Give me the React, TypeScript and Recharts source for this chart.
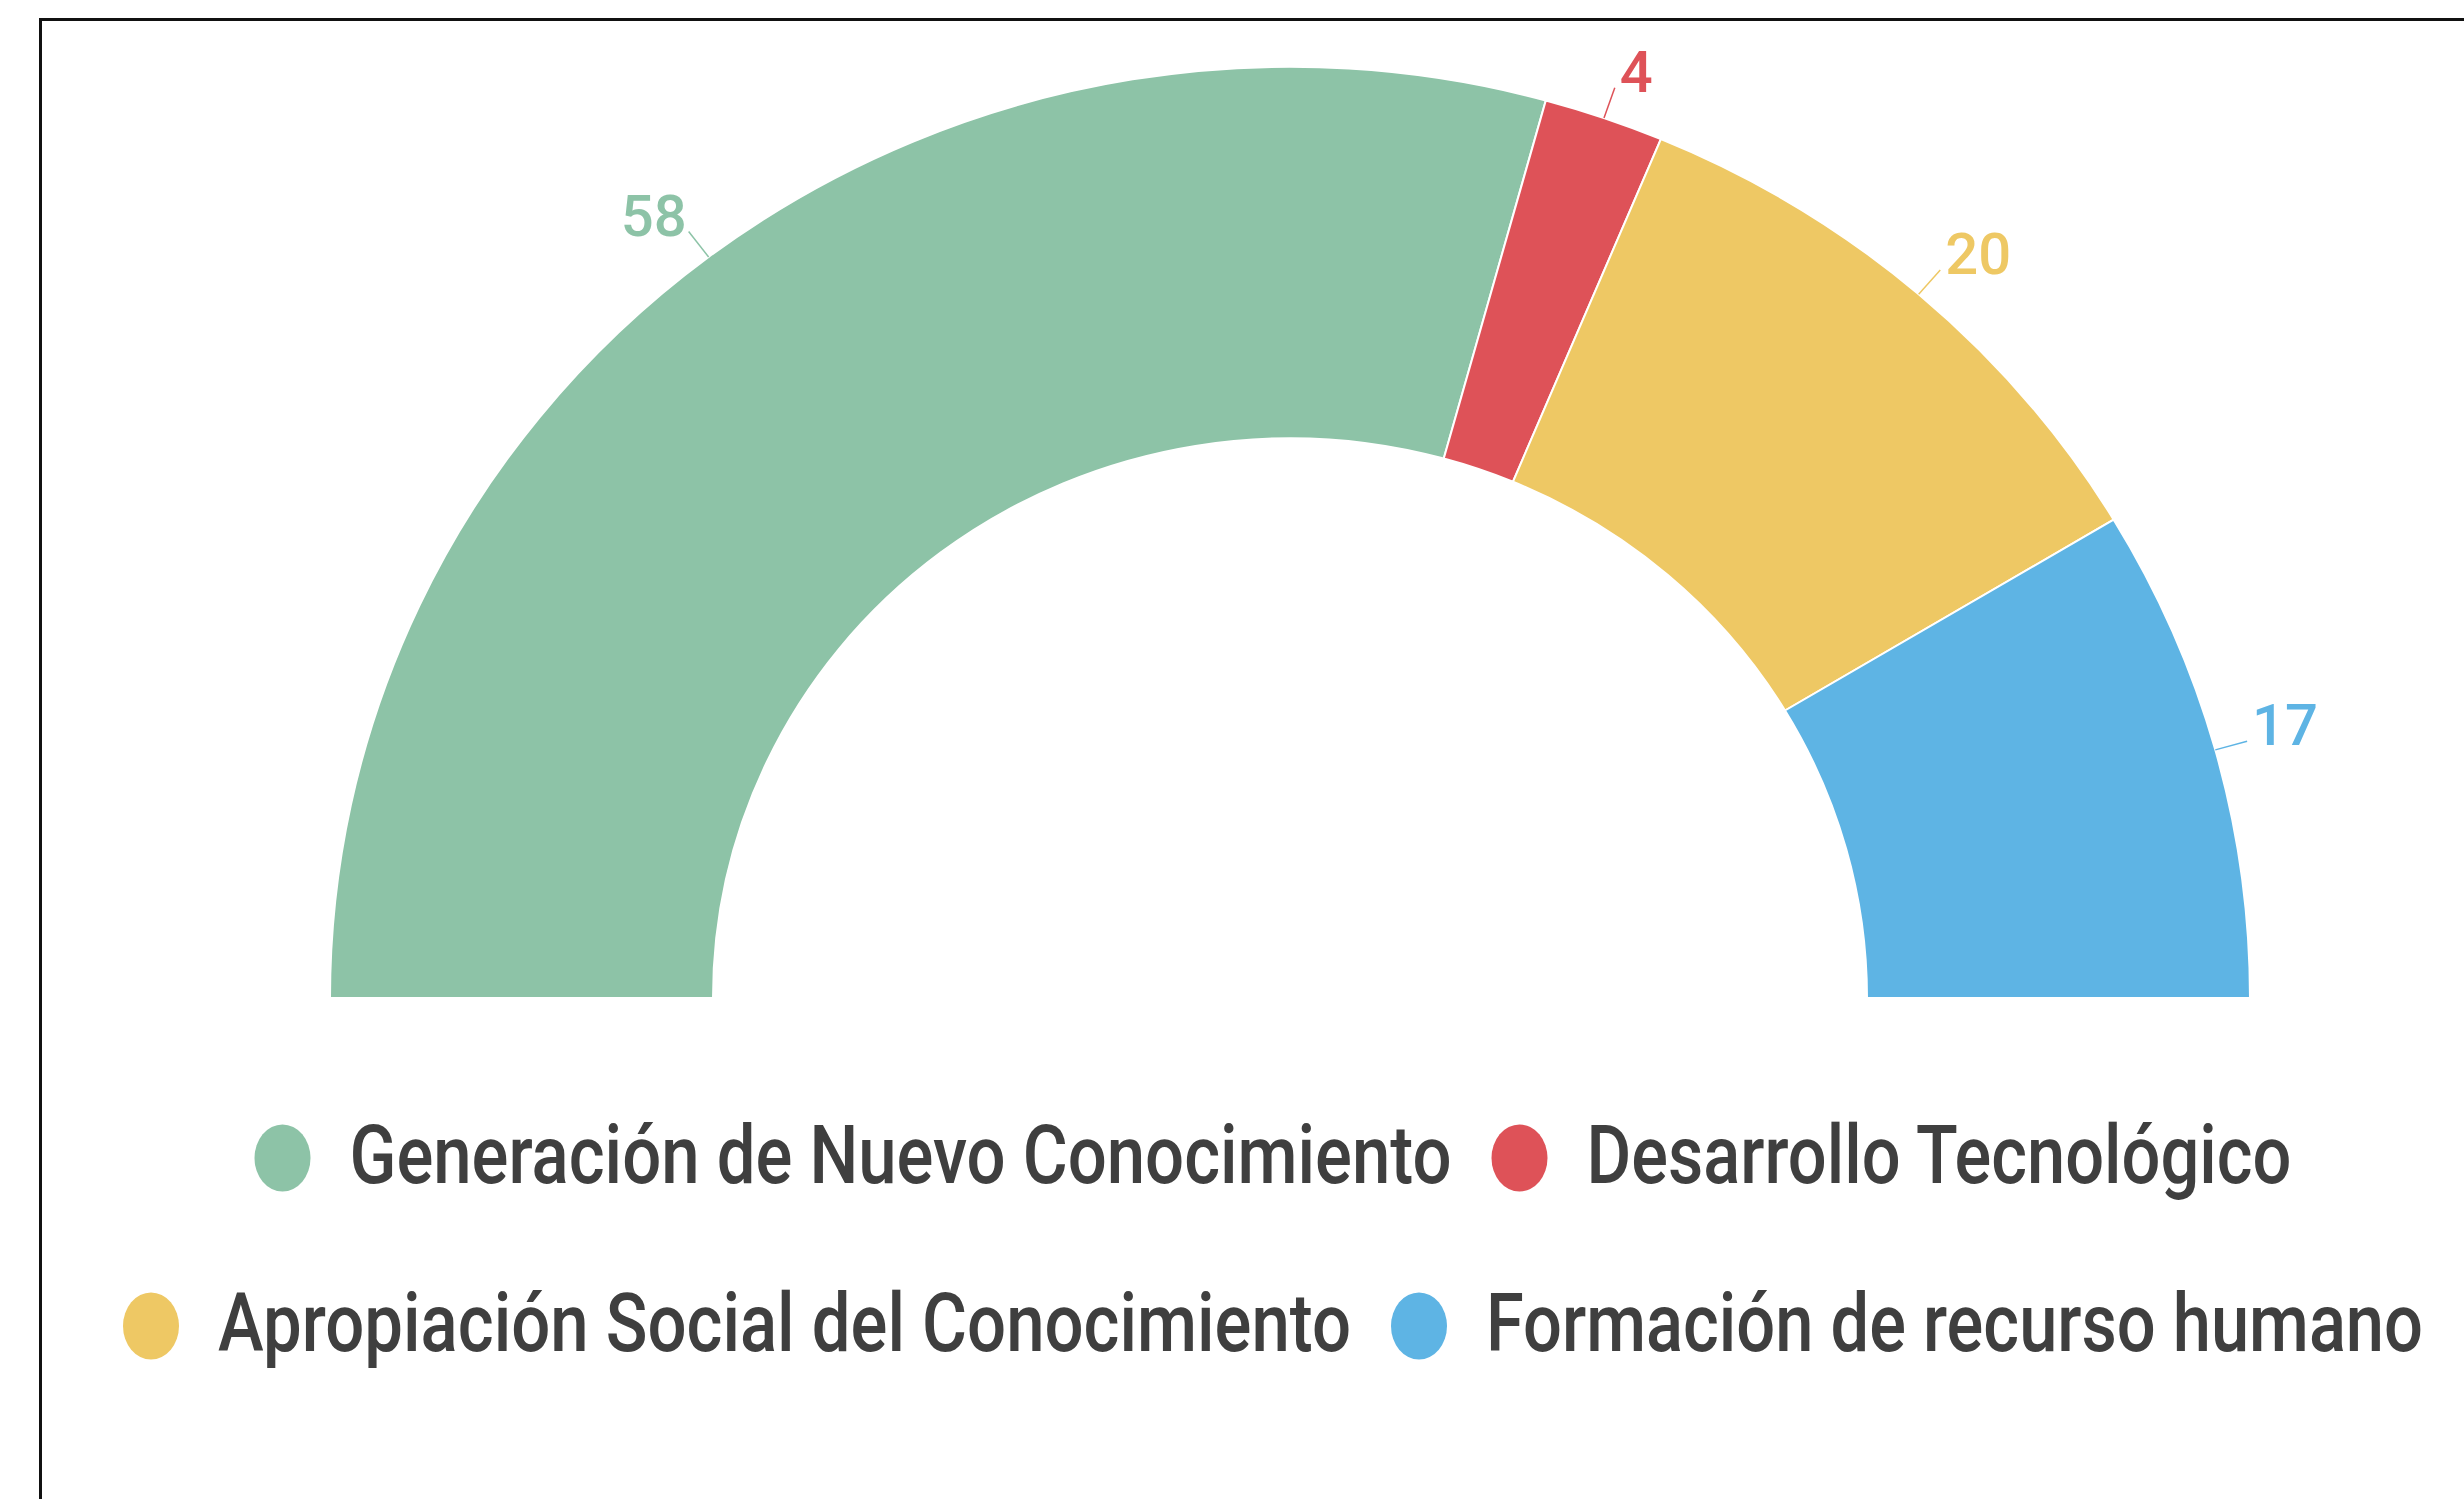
import React from 'react';
import { PieChart, Pie, Cell, Legend } from 'recharts';

const categories = [
  'Generación de Nuevo Conocimiento',
  'Desarrollo Tecnológico',
  'Apropiación Social del Conocimiento',
  'Formación de recurso humano',
];
const values = [58, 4, 20, 17];
const colors = ['#8DC3A7', '#DE5258', '#EEC864', '#5EB4E4'];

const data = categories.map((name, i) => ({ name, value: values[i] }));

const W = 2464;
const H = 1499;
const CX = 1290;
const CY = 998;
const SQUASH = 0.97; // the original arc is a touch flatter than a circle
const RAD = Math.PI / 180;

// legend layout (widths of each label as drawn in the original)
const legendTextLen = [1102, 705, 1133, 937];
const legendRows = [[0, 1], [2, 3]];
const legendRowY = [78, 246];
const LEGEND_CENTER = 1273;
const DOT_W = 56;
const DOT_H = 67;
const DOT_GAP = 39;
const ITEM_GAP = 40;

const point = (cx: number, cy: number, r: number, angle: number) => ({
  x: cx + r * Math.cos(-angle * RAD),
  y: cy + r * Math.sin(-angle * RAD) * SQUASH,
});

const renderLabel = (props: any) => {
  const { cx, cy, midAngle, outerRadius, index, value } = props;
  const end = point(cx, cy, outerRadius + 33, midAngle);
  const right = end.x > cx;
  return (
    <text
      x={end.x + (right ? 5 : -2)}
      y={end.y + 4}
      textAnchor={right ? 'start' : 'end'}
      fill={colors[index]}
      fontSize={58}
      fontWeight={500}
      fontFamily="Roboto, sans-serif"
    >
      {value}
    </text>
  );
};

const renderLabelLine = (props: any) => {
  const { cx, cy, midAngle, outerRadius, index } = props;
  const a = point(cx, cy, outerRadius, midAngle);
  const b = point(cx, cy, outerRadius + 33, midAngle);
  return <path d={`M${a.x},${a.y}L${b.x},${b.y}`} stroke={colors[index]} strokeWidth={1.5} fill="none" />;
};

const renderLegend = () => (
  <svg width={W} height={320}>
    {legendRows.map((row, r) => {
      const total = row.reduce((s, i) => s + DOT_W + DOT_GAP + legendTextLen[i], 0) + ITEM_GAP * (row.length - 1);
      let x = LEGEND_CENTER - total / 2;
      const y = legendRowY[r];
      return row.map((i) => {
        const dotX = x + DOT_W / 2;
        const textX = x + DOT_W + DOT_GAP;
        x = textX + legendTextLen[i] + ITEM_GAP;
        return (
          <g key={categories[i]}>
            <ellipse cx={dotX} cy={y} rx={DOT_W / 2} ry={DOT_H / 2} fill={colors[i]} />
            <text
              x={textX}
              y={y + 25}
              fontSize={82}
              fontWeight={500}
              fontFamily="Roboto, sans-serif"
              fill="#3f3f3f"
              textLength={legendTextLen[i]}
              lengthAdjust="spacingAndGlyphs"
            >
              {categories[i]}
            </text>
          </g>
        );
      });
    })}
  </svg>
);

export default function App() {
  return (
    <div style={{ position: 'absolute', left: 0, top: 0, width: W, height: H, overflow: 'hidden', background: '#fff' }}>
      <style>{`.recharts-pie-sector { transform: scaleY(${SQUASH}); transform-origin: ${CX}px ${CY}px; transform-box: view-box; }`}</style>
      <div
        style={{
          position: 'absolute',
          left: 39,
          top: 18,
          width: W + 100,
          height: H + 100,
          border: '3px solid #111',
          boxSizing: 'border-box',
        }}
      />
      <div style={{ position: 'absolute', left: 0, top: 0 }}>
        <PieChart width={W} height={H} margin={{ top: 0, right: 0, bottom: 0, left: 0 }}>
          <Pie
            data={data}
            dataKey="value"
            nameKey="name"
            cx={CX}
            cy={CY}
            startAngle={180}
            endAngle={0}
            innerRadius={577}
            outerRadius={960}
            stroke="#fff"
            strokeWidth={2}
            label={renderLabel}
            labelLine={renderLabelLine}
            isAnimationActive={false}
          >
            {data.map((d, i) => (
              <Cell key={d.name} fill={colors[i]} />
            ))}
          </Pie>
          <Legend
            content={renderLegend}
            wrapperStyle={{ position: 'absolute', left: 0, top: 1080, width: W, height: 320 }}
          />
        </PieChart>
      </div>
    </div>
  );
}
